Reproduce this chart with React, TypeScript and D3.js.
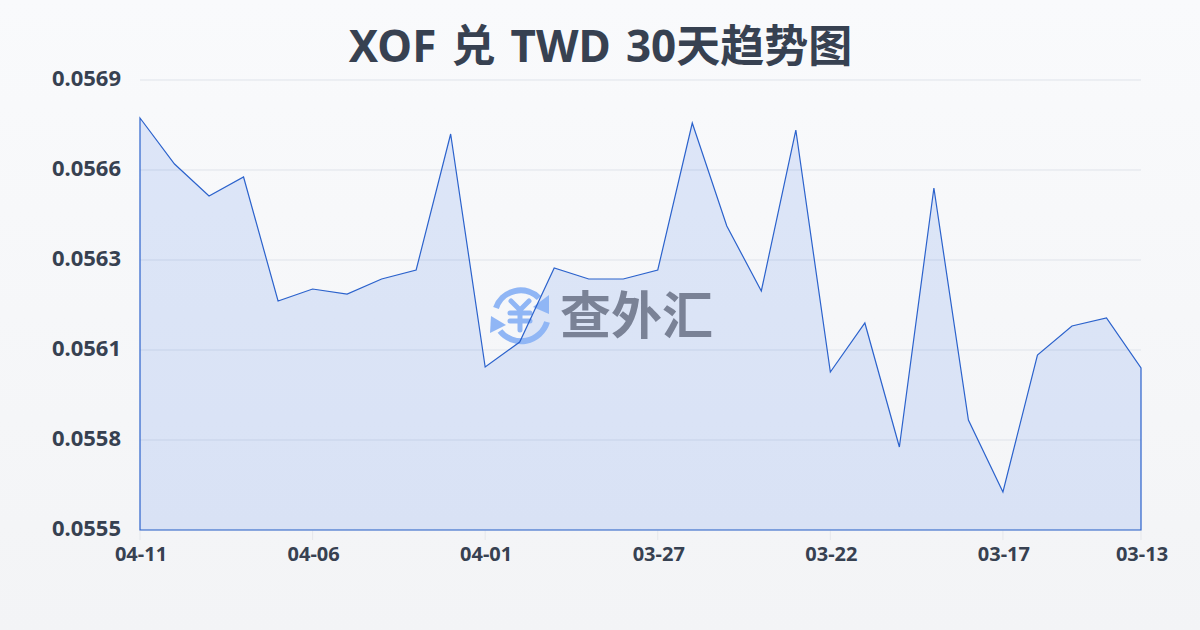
import { useEffect, useRef } from 'react';
import * as d3 from 'd3';

const dates = [
  '04-11', '04-10', '04-09', '04-08', '04-07', '04-06', '04-05', '04-04', '04-03', '04-02',
  '04-01', '03-31', '03-30', '03-29', '03-28', '03-27', '03-26', '03-25', '03-24', '03-23',
  '03-22', '03-21', '03-20', '03-19', '03-18', '03-17', '03-16', '03-15', '03-14', '03-13',
];

const rates = [
  0.0567818, 0.0566387, 0.0565391, 0.0565982, 0.0562124, 0.0562498, 0.0562342, 0.0562809, 0.0563089, 0.056732,
  0.0560071, 0.0560849, 0.0563151, 0.0562809, 0.0562809, 0.0563089, 0.0567662, 0.0564458, 0.0562436, 0.0567444,
  0.0559916, 0.056144, 0.0557582, 0.056564, 0.0558422, 0.0556182, 0.0560444, 0.0561347, 0.0561596, 0.056004,
];

const yTicks = [0.0555, 0.05578, 0.05606, 0.05634, 0.05662, 0.0569];
const yTickLabels = ['0.0555', '0.0558', '0.0561', '0.0563', '0.0566', '0.0569'];
const xTickDates = ['04-11', '04-06', '04-01', '03-27', '03-22', '03-17', '03-13'];

const FONT = '"Noto Sans", "Noto Sans CJK SC", sans-serif';
const CJK_FONT = '"Noto Sans CJK SC", "Noto Sans", sans-serif';

export default function App() {
  const svgRef = useRef<SVGSVGElement>(null);

  useEffect(() => {
    if (!svgRef.current) return;
    const width = 1200;
    const height = 630;
    const left = 140;
    const right = 1141;
    const top = 80;
    const bottom = 530;

    const svg = d3.select(svgRef.current);
    svg.selectAll('*').remove();
    svg.attr('viewBox', `0 0 ${width} ${height}`);

    const defs = svg.append('defs');
    const bg = defs.append('linearGradient').attr('id', 'bg').attr('x1', 0).attr('y1', 0).attr('x2', 0).attr('y2', 1);
    bg.append('stop').attr('offset', '0%').attr('stop-color', '#f9fafc');
    bg.append('stop').attr('offset', '100%').attr('stop-color', '#f3f4f6');

    svg.append('rect').attr('width', width).attr('height', height).attr('fill', 'url(#bg)');

    const x = d3.scalePoint<string>().domain(dates).range([left, right]);
    const y = d3.scaleLinear().domain([0.0555, 0.0569]).range([bottom, top]);

    // title
    svg.append('text')
      .attr('x', 600.5)
      .attr('y', 62)
      .attr('text-anchor', 'middle')
      .attr('font-family', FONT)
      .attr('font-size', 44)
      .attr('font-weight', 700)
      .attr('word-spacing', 3.7)
      .attr('fill', '#374151')
      .text('XOF 兑 TWD 30天趋势图');

    // grid
    yTicks.forEach((t, i) => {
      svg.append('line')
        .attr('x1', left).attr('x2', right)
        .attr('y1', y(t)).attr('y2', y(t))
        .attr('stroke', '#dfe3ea')
        .attr('stroke-width', 1);

      svg.append('text')
        .attr('x', 121)
        .attr('y', y(t) + 6)
        .attr('text-anchor', 'end')
        .attr('font-family', FONT)
        .attr('font-size', 22)
        .attr('font-weight', 700)
        .attr('fill', '#374151')
        .text(yTickLabels[i]);
    });

    // x ticks
    xTickDates.forEach((d) => {
      svg.append('line')
        .attr('x1', x(d)!).attr('x2', x(d)!)
        .attr('y1', bottom).attr('y2', bottom + 10)
        .attr('stroke', '#e5e7eb');

      svg.append('text')
        .attr('x', x(d)! + 1)
        .attr('y', 561)
        .attr('text-anchor', 'middle')
        .attr('font-family', FONT)
        .attr('font-size', 20)
        .attr('font-weight', 700)
        .attr('fill', '#374151')
        .text(d);
    });

    // area
    const area = d3.area<number>()
      .x((_, i) => x(dates[i])!)
      .y0(bottom)
      .y1((d) => y(d));

    svg.append('path')
      .attr('d', area(rates)!)
      .attr('fill', 'rgba(37, 99, 235, 0.13)')
      .attr('stroke', 'none');

    // watermark
    const mark = svg.append('g').attr('transform', 'translate(520, 316)');
    const blue = '#90b6f5';
    mark.append('path')
      .attr('d', 'M -24 -8 A 26 26 0 0 1 19 -18')
      .attr('fill', 'none').attr('stroke', blue).attr('stroke-width', 6);
    mark.append('path').attr('d', 'M 29 -21 L 29 -2 L 13 -9 Z').attr('fill', blue);
    mark.append('path')
      .attr('d', 'M 27 6 A 27 27 0 0 1 -20 15')
      .attr('fill', 'none').attr('stroke', blue).attr('stroke-width', 6);
    mark.append('path').attr('d', 'M -29 0 L -30 17 L -14 9 Z').attr('fill', blue);
    mark.append('path')
      .attr('d', 'M -9 -15 L 0 -6 L 9 -15 M -10 -3 H 10 M -10 5 H 10 M 0 -6 V 14')
      .attr('fill', 'none')
      .attr('stroke', blue)
      .attr('stroke-width', 5)
      .attr('stroke-linecap', 'round')
      .attr('stroke-linejoin', 'round');
    svg.append('text')
      .attr('x', 560)
      .attr('y', 334)
      .attr('font-family', CJK_FONT)
      .attr('font-size', 51)
      .attr('font-weight', 700)
      .attr('fill', '#7a8296')
      .text('查外汇');

    // outline
    svg.append('path')
      .attr('d', area(rates)!)
      .attr('fill', 'none')
      .attr('stroke', '#2b62cc')
      .attr('stroke-width', 1.2);
  }, []);

  return (
    <svg
      ref={svgRef}
      width={1200}
      height={630}
      style={{ position: 'absolute', left: 0, top: 0, display: 'block' }}
    />
  );
}
